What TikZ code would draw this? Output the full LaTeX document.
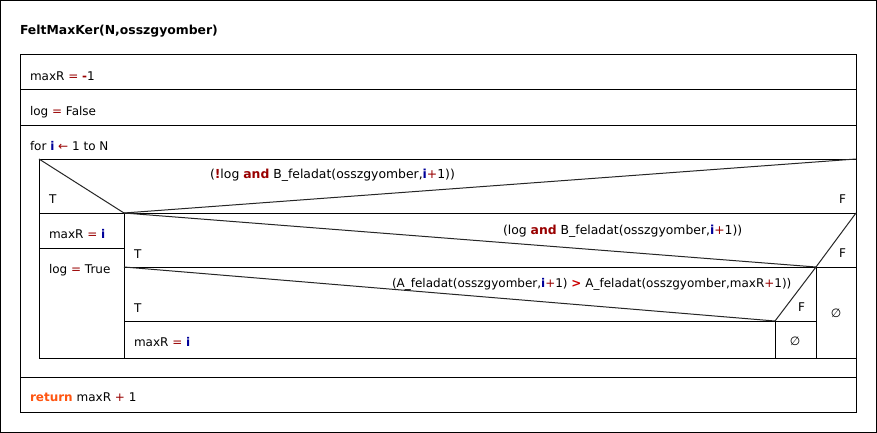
\documentclass[tikz,border=0pt]{standalone}
\usepackage{fontspec}
\setmainfont{DejaVu Sans}
\usepackage{xcolor}
\definecolor{opred}{HTML}{990000}
\definecolor{gtred}{HTML}{CC0000}
\definecolor{vblue}{HTML}{000099}
\definecolor{kworange}{HTML}{FF5511}
\newcommand\opr[1]{\textcolor{opred}{#1}}
\newcommand\opbold[1]{\textcolor{opred}{\bfseries #1}}
\newcommand\vii{\textcolor{vblue}{\bfseries i}}
\begin{document}
\begin{tikzpicture}[x=1pt,y=-1pt,
  txt/.style={anchor=base west,inner sep=0pt,outer sep=0pt,font=\fontsize{12}{14}\selectfont},
  wtxt/.style={txt,font=\fontsize{12.4}{14}\selectfont},
  ln/.style={line width=1pt,black},
  dg/.style={line width=1pt,black!85}]
\useasboundingbox (0,0) rectangle (877,433);
\fill[white] (0,0) rectangle (877,433);
\draw[ln] (0.5,0.5) rectangle (876.5,432.5);
% coordinates
\coordinate (A) at (39,159);
\coordinate (B) at (124,213);
\coordinate (C) at (856,159);
\coordinate (D) at (816,267);
\coordinate (E) at (856,213);
\coordinate (G) at (124,267);
\coordinate (H) at (775,321);
% main box
\draw[ln] (20,55) rectangle (856,412);
\draw[ln] (20,90) -- (856,90);
\draw[ln] (20,125) -- (856,125);
\draw[ln] (20,377) -- (856,377);
% inner if box
\draw[ln] (39,159) rectangle (856,358);
\draw[ln] (39,213) -- (856,213);
\draw[ln] (124,213) -- (124,358);
\draw[ln] (39,248) -- (124,248);
\draw[ln] (124,267) -- (856,267);
\draw[ln] (816,267) -- (816,358);
\draw[ln] (124,321) -- (816,321);
\draw[ln] (775,321) -- (775,358);
% diagonals
\draw[dg] (A) -- (B) -- (C);
\draw[dg] (B) -- (D) -- (E);
\draw[dg] (G) -- (H) -- (D);
% texts
\node[txt,font=\fontsize{12.4}{14}\selectfont\bfseries] (title) at (20,35) {FeltMaxKer(N,osszgyomber)};
\node[txt] (s1) at (30,81) {maxR \opr{=} \opbold{-}1};
\node[txt] (s2) at (30,115) {log \opr{=} False};
\node[txt] (s3) at (30,150) {for \vii{} \opr{←} 1 to N};
\node[wtxt] (c1) at (210,178) {(\opbold{!}log \opbold{and} B\_feladat(osszgyomber,\vii\opr{+}1))};
\node[txt] (t1) at (49,203) {T};
\node[txt] (f1) at (839,203) {F};
\node[txt] (s4) at (49,238) {maxR \opr{=} \vii};
\node[txt] (s5) at (49,273) {log \opr{=} True};
\node[wtxt] (c2) at (503,234) {(log \opbold{and} B\_feladat(osszgyomber,\vii\opr{+}1))};
\node[txt] (t2) at (134,258) {T};
\node[txt] (f2) at (839,257) {F};
\node[txt] (c3) at (392,287) {(A\_feladat(osszgyomber,\vii\opr{+}1) \textcolor{gtred}{\bfseries >} A\_feladat(osszgyomber,maxR\opr{+}1))};
\node[txt] (t3) at (134,312) {T};
\node[txt] (f3) at (798,311) {F};
\node[font=\fontsize{12}{14}\selectfont,inner sep=0pt] (e1) at (836,313) {∅};
\node[font=\fontsize{12}{14}\selectfont,inner sep=0pt] (e2) at (795,341) {∅};
\node[txt] (s6) at (134,346) {maxR \opr{=} \vii};
\node[txt] (s7) at (30,401) {\textcolor{kworange}{\bfseries return} maxR \opr{+} 1};
\end{tikzpicture}
\end{document}
